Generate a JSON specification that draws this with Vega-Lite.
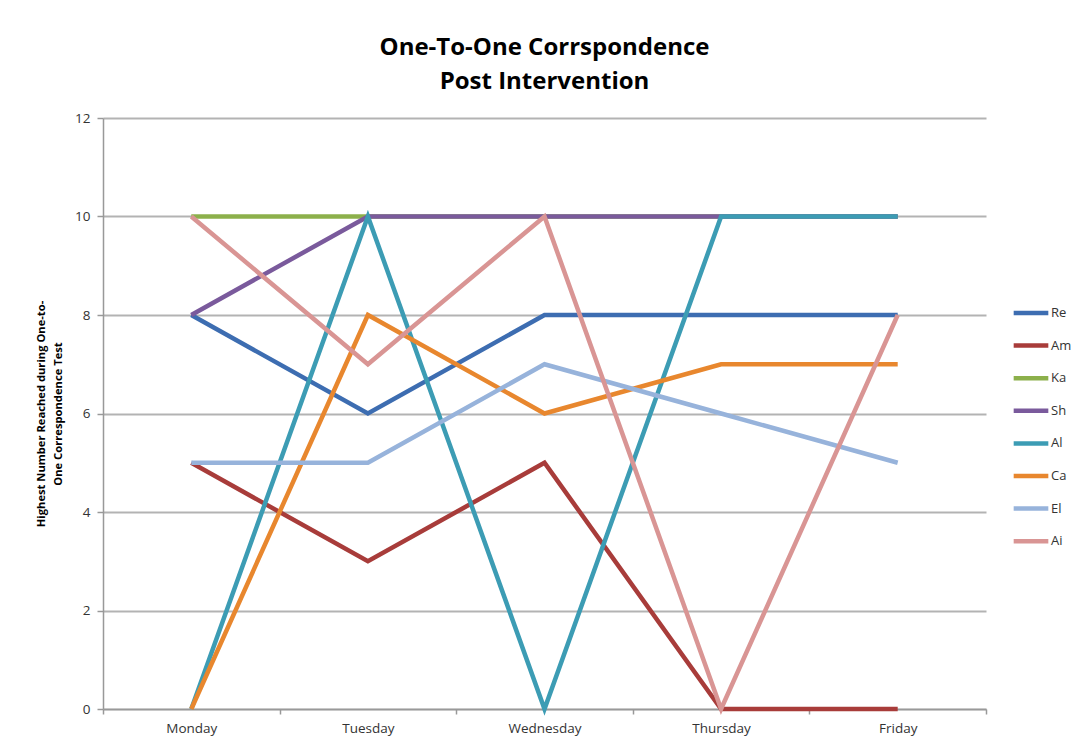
{
  "$schema": "https://vega.github.io/schema/vega-lite/v6.json",
  "autosize": "none",
  "width": 883,
  "height": 591,
  "padding": {"left": 103, "top": 118, "right": 100, "bottom": 35},
  "background": "white",
  "title": {
    "text": ["One-To-One Corrspondence", "Post Intervention"],
    "font": "Open Sans",
    "fontSize": 24,
    "fontWeight": "bold",
    "color": "#000000",
    "lineHeight": 34,
    "offset": 17,
    "anchor": "middle"
  },
  "data": {
    "values": [
      {"student": "Re", "day": "Monday", "value": 8},
      {"student": "Re", "day": "Tuesday", "value": 6},
      {"student": "Re", "day": "Wednesday", "value": 8},
      {"student": "Re", "day": "Thursday", "value": 8},
      {"student": "Re", "day": "Friday", "value": 8},
      {"student": "Am", "day": "Monday", "value": 5},
      {"student": "Am", "day": "Tuesday", "value": 3},
      {"student": "Am", "day": "Wednesday", "value": 5},
      {"student": "Am", "day": "Thursday", "value": 0},
      {"student": "Am", "day": "Friday", "value": 0},
      {"student": "Ka", "day": "Monday", "value": 10},
      {"student": "Ka", "day": "Tuesday", "value": 10},
      {"student": "Ka", "day": "Wednesday", "value": 10},
      {"student": "Ka", "day": "Thursday", "value": 10},
      {"student": "Ka", "day": "Friday", "value": 10},
      {"student": "Sh", "day": "Monday", "value": 8},
      {"student": "Sh", "day": "Tuesday", "value": 10},
      {"student": "Sh", "day": "Wednesday", "value": 10},
      {"student": "Sh", "day": "Thursday", "value": 10},
      {"student": "Sh", "day": "Friday", "value": 10},
      {"student": "Al", "day": "Monday", "value": 0},
      {"student": "Al", "day": "Tuesday", "value": 10},
      {"student": "Al", "day": "Wednesday", "value": 0},
      {"student": "Al", "day": "Thursday", "value": 10},
      {"student": "Al", "day": "Friday", "value": 10},
      {"student": "Ca", "day": "Monday", "value": 0},
      {"student": "Ca", "day": "Tuesday", "value": 8},
      {"student": "Ca", "day": "Wednesday", "value": 6},
      {"student": "Ca", "day": "Thursday", "value": 7},
      {"student": "Ca", "day": "Friday", "value": 7},
      {"student": "El", "day": "Monday", "value": 5},
      {"student": "El", "day": "Tuesday", "value": 5},
      {"student": "El", "day": "Wednesday", "value": 7},
      {"student": "El", "day": "Thursday", "value": 6},
      {"student": "El", "day": "Friday", "value": 5},
      {"student": "Ai", "day": "Monday", "value": 10},
      {"student": "Ai", "day": "Tuesday", "value": 7},
      {"student": "Ai", "day": "Wednesday", "value": 10},
      {"student": "Ai", "day": "Thursday", "value": 0},
      {"student": "Ai", "day": "Friday", "value": 8}
    ]
  },
  "mark": {"type": "line", "strokeWidth": 4.5, "strokeCap": "butt", "strokeJoin": "miter"},
  "encoding": {
    "x": {
      "field": "day",
      "type": "nominal",
      "sort": ["Monday", "Tuesday", "Wednesday", "Thursday", "Friday"],
      "scale": {"type": "band", "paddingInner": 0, "paddingOuter": 0},
      "axis": {
        "title": null,
        "labelAngle": 0,
        "labelFont": "Open Sans",
        "labelFontSize": 13.5,
        "labelColor": "#333333",
        "labelPadding": 7,
        "tickBand": "extent",
        "tickColor": "#999999",
        "tickSize": 5,
        "tickWidth": 1.5,
        "domainColor": "#999999",
        "domainWidth": 1.5,
        "grid": false
      }
    },
    "y": {
      "field": "value",
      "type": "quantitative",
      "scale": {"domain": [0, 12], "nice": false, "zero": true},
      "axis": {
        "values": [0, 2, 4, 6, 8, 10, 12],
        "title": ["Highest Number Reached during One-to-", "One Correspondence Test"],
        "titleFont": "Open Sans",
        "titleFontSize": 11.2,
        "titleFontWeight": "bold",
        "titleColor": "#000000",
        "titleLineHeight": 17,
        "titlePadding": 11,
        "labelFont": "Open Sans",
        "labelFontSize": 13.5,
        "labelColor": "#333333",
        "labelPadding": 7,
        "tickColor": "#999999",
        "tickSize": 6,
        "tickWidth": 1.5,
        "domainColor": "#999999",
        "domainWidth": 1.5,
        "grid": true,
        "gridColor": "#b3b3b3",
        "gridWidth": 2
      }
    },
    "color": {
      "field": "student",
      "type": "nominal",
      "sort": ["Re", "Am", "Ka", "Sh", "Al", "Ca", "El", "Ai"],
      "scale": {
        "domain": ["Re", "Am", "Ka", "Sh", "Al", "Ca", "El", "Ai"],
        "range": ["#3D6DB1", "#A83C3A", "#8CB04B", "#7A5A9C", "#3C9CB4", "#E8872E", "#97B3DB", "#D99594"]
      },
      "legend": {
        "title": null,
        "orient": "none",
        "legendX": 908,
        "legendY": 175,
        "symbolType": "stroke",
        "symbolSize": 1200,
        "symbolStrokeWidth": 4.5,
        "labelFont": "Open Sans",
        "labelFontSize": 13,
        "labelColor": "#333333",
        "labelOffset": 0,
        "rowPadding": 3.6
      }
    },
    "order": {"value": 0}
  },
  "config": {"view": {"stroke": null}}
}
